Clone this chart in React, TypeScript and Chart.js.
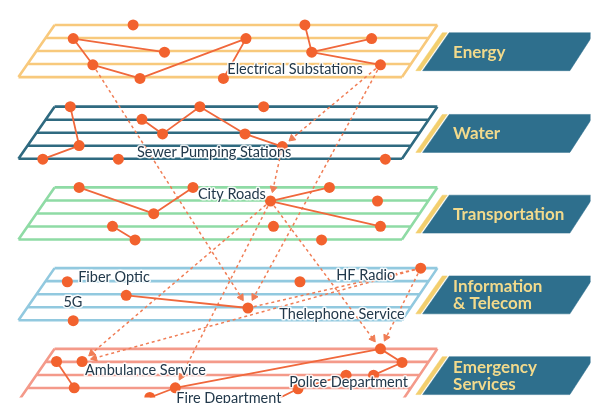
import React, { useEffect, useRef } from "react";
import { Chart, registerables } from "chart.js";
Chart.register(...registerables);

type P = [number, number];

// ---------- data ----------
const layerTops = [20, 104, 187, 270, 353];
const layerColors = ["#f8c97c", "#2f6a80", "#8fdba5", "#92c9df", "#f49a8a"];
const bannerLines: string[][] = [
  ["Energy"],
  ["Water"],
  ["Transportation"],
  ["Information", "& Telecom"],
  ["Emergency", "Services"],
];

const energyNodes: P[] = [
  [130, 20], [69, 34], [162, 48], [89, 61], [137, 75], [245, 34],
  [222, 75], [305, 20], [312, 48], [373, 34], [382, 61],
];
const energyLinks: P[] = [[1, 2], [1, 3], [3, 4], [4, 5], [5, 6], [7, 8], [8, 9], [8, 10]];

const waterNodes: P[] = [
  [66, 104], [75, 144], [38, 158], [115, 158], [139, 117], [160, 132],
  [198, 104], [244, 132], [263, 104], [282, 145], [387, 158],
];
const waterLinks: P[] = [[0, 1], [1, 2], [4, 5], [5, 6], [6, 7], [7, 9]];

const transportNodes: P[] = [
  [75, 187], [151, 214], [191, 187], [109, 227], [132, 241], [270, 201],
  [273, 227], [330, 187], [379, 201], [382, 227], [322, 241],
];
const transportLinks: P[] = [[0, 1], [1, 2], [3, 4], [5, 7], [5, 9]];

const telecomNodes: P[] = [
  [63, 284], [123, 298], [69, 324], [247, 311], [300, 284], [423, 270],
];
const telecomLinks: P[] = [[1, 3]];

const emergencyNodes: P[] = [
  [52, 366], [78, 366], [70, 393], [173, 393], [147, 403], [382, 353],
  [404, 367], [347, 380], [375, 380], [298, 394], [262, 412],
];
const emergencyLinks: P[] = [[0, 2], [4, 3], [3, 5], [5, 6], [6, 8], [9, 7], [9, 10]];

// dependency arrows: [fromX, fromY, toX, toY, head(1/0)]
const arrows: number[][] = [
  [89, 61, 247, 311, 1],
  [382, 61, 282, 145, 1],
  [382, 61, 247, 311, 1],
  [282, 145, 270, 201, 1],
  [270, 201, 78, 366, 1],
  [270, 201, 173, 393, 1],
  [270, 201, 382, 353, 1],
  [423, 270, 78, 366, 1],
  [423, 270, 382, 353, 1],
  [247, 311, 423, 270, 0],
];

const labelTexts = [
  "Electrical Substations", "Sewer Pumping Stations", "City Roads", "Fiber Optic", "5G",
  "HF Radio", "Thelephone Service", "Ambulance Service", "Police Department", "Fire Department",
];
const labelX = [226, 134, 196, 74, 59, 337, 279, 81, 289, 174];
const labelY = [66, 151, 194, 279, 305, 277, 318, 375, 387, 404];

// ---------- styling / geometry ----------
const NODE = "#f2622e";
const LINK = "#f0683c";
const DASH = "#f07d55";
const BANNER = "#2e6f8d";
const STRIPE = "#f3cf6e";
const BANNER_TEXT = "#f2da8c";
const LABEL = "#22394b";

const GAP = 13.4;
const LEFT_TOP = 50;
const RIGHT_TOP = 440;
const LEFT_SLANT = 9.2;
const RIGHT_SLANT = 9.0;

const NaNpt = { x: NaN, y: NaN };

function planeData(T: number) {
  const d: any[] = [];
  for (let k = 0; k < 5; k++) {
    d.push({ x: LEFT_TOP - k * LEFT_SLANT, y: T + k * GAP });
    d.push({ x: RIGHT_TOP - k * RIGHT_SLANT, y: T + k * GAP });
    d.push(NaNpt);
  }
  d.push({ x: LEFT_TOP, y: T }, { x: LEFT_TOP - 4 * LEFT_SLANT, y: T + 4 * GAP }, NaNpt);
  d.push({ x: RIGHT_TOP, y: T }, { x: RIGHT_TOP - 4 * RIGHT_SLANT, y: T + 4 * GAP });
  return d;
}

function linkData(nodes: P[], links: P[]) {
  const d: any[] = [];
  links.forEach(([a, b]) => {
    d.push({ x: nodes[a][0], y: nodes[a][1] }, { x: nodes[b][0], y: nodes[b][1] }, NaNpt);
  });
  return d;
}

const layers = [
  [energyNodes, energyLinks],
  [waterNodes, waterLinks],
  [transportNodes, transportLinks],
  [telecomNodes, telecomLinks],
  [emergencyNodes, emergencyLinks],
] as [P[], P[]][];

const textPlugin = {
  id: "textPlugin",
  afterDatasetsDraw(chart: any) {
    const { ctx, scales } = chart;
    const xs = scales.x;
    const ys = scales.y;
    ctx.save();
    ctx.textBaseline = "middle";
    ctx.textAlign = "left";
    ctx.lineJoin = "round";
    ctx.font = "14.5px Lato";
    labelTexts.forEach((t, i) => {
      const px = xs.getPixelForValue(labelX[i]);
      const py = ys.getPixelForValue(labelY[i]);
      ctx.strokeStyle = "rgba(255,255,255,0.85)";
      ctx.lineWidth = 3;
      ctx.strokeText(t, px, py);
      ctx.fillStyle = LABEL;
      ctx.fillText(t, px, py);
    });
    ctx.font = "bold 17px Lato";
    ctx.fillStyle = BANNER_TEXT;
    bannerLines.forEach((lines, i) => {
      const T = layerTops[i];
      const px = xs.getPixelForValue(456);
      if (lines.length === 1) {
        ctx.fillText(lines[0], px, ys.getPixelForValue(T + 28));
      } else {
        ctx.fillText(lines[0], px, ys.getPixelForValue(T + 19));
        ctx.fillText(lines[1], px, ys.getPixelForValue(T + 36.5));
      }
    });
    ctx.restore();
  },
};

export default function App() {
  const ref = useRef<HTMLCanvasElement | null>(null);
  useEffect(() => {
    if (!ref.current) return;
    const datasets: any[] = [];

    // planes
    layerTops.forEach((T, i) => {
      datasets.push({
        data: planeData(T),
        borderColor: layerColors[i],
        borderWidth: 2.6,
        pointRadius: 0,
        fill: false,
        spanGaps: false,
        order: 5,
      });
      // banner stripe
      datasets.push({
        data: [
          { x: 445, y: T + 8 }, { x: 450, y: T + 8 }, { x: 423, y: T + 47 }, { x: 418, y: T + 47 }, { x: 445, y: T + 8 },
        ],
        borderColor: STRIPE,
        backgroundColor: STRIPE,
        borderWidth: 0.5,
        pointRadius: 0,
        fill: "shape",
        order: 4,
      });
      datasets.push({
        data: [
          { x: 452, y: T + 8 }, { x: 600, y: T + 8 }, { x: 575, y: T + 47 }, { x: 425, y: T + 47 }, { x: 452, y: T + 8 },
        ],
        borderColor: BANNER,
        backgroundColor: BANNER,
        borderWidth: 0.5,
        pointRadius: 0,
        fill: "shape",
        order: 4,
      });
    });

    // arrows
    arrows.forEach(([x1, y1, x2, y2, head]) => {
      const dx = x2 - x1;
      const dy = y2 - y1;
      const len = Math.hypot(dx, dy);
      const ux = dx / len;
      const uy = dy / len;
      const back = head ? 13 : 6;
      const ex = x2 - ux * back;
      const ey = y2 - uy * back;
      const deg = (Math.atan2(ux, -uy) * 180) / Math.PI;
      datasets.push({
        data: [{ x: x1, y: y1 }, { x: ex, y: ey }],
        borderColor: DASH,
        borderWidth: 1.5,
        borderDash: [3, 3],
        pointRadius: [0, head ? 4 : 0],
        pointStyle: "triangle",
        pointRotation: [0, deg],
        pointBackgroundColor: DASH,
        pointBorderColor: DASH,
        pointBorderWidth: 1,
        fill: false,
        order: 3,
      });
    });

    // links and nodes
    layers.forEach(([nodes, links]) => {
      datasets.push({
        data: linkData(nodes, links),
        borderColor: LINK,
        borderWidth: 1.8,
        pointRadius: 0,
        fill: false,
        spanGaps: false,
        order: 2,
      });
      datasets.push({
        data: nodes.map(([x, y]) => ({ x, y })),
        showLine: false,
        pointRadius: 5.5,
        pointBackgroundColor: NODE,
        pointBorderColor: NODE,
        pointBorderWidth: 0,
        fill: false,
        order: 1,
      });
    });

    const chart = new Chart(ref.current, {
      type: "line",
      data: { datasets },
      options: {
        animation: false,
        responsive: true,
        maintainAspectRatio: false,
        events: [],
        layout: { padding: 0 },
        plugins: { legend: { display: false }, tooltip: { enabled: false } },
        scales: {
          x: { type: "linear", min: 0, max: 596, display: false },
          y: { type: "linear", min: 0, max: 403, reverse: true, display: false },
        },
      },
      plugins: [textPlugin],
    } as any);
    return () => chart.destroy();
  }, []);

  return (
    <div style={{ position: "absolute", left: 0, top: 0, width: 596, height: 403, background: "#fff" }}>
      <canvas ref={ref} />
    </div>
  );
}
